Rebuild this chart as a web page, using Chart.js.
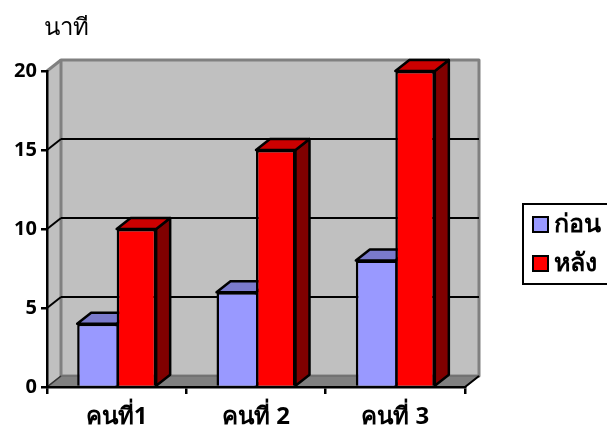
<!DOCTYPE html>
<html>
<head>
<meta charset="utf-8">
<title>chart</title>
<script src="https://cdn.jsdelivr.net/npm/chart.js@4"></script>
<style>
  html, body { margin: 0; padding: 0; background: #fff; overflow: hidden; }
  canvas { display: block; }
</style>
</head>
<body>
<canvas id="chart" width="607" height="428" style="width:607px;height:428px"></canvas>
<script>
const categories = ["คนที่1", "คนที่ 2", "คนที่ 3"];
const beforeValues = [4, 6, 8];
const afterValues = [10, 15, 20];
const seriesNames = ["ก่อน", "หลัง"];
const unitLabel = "นาที";

const FONT = '"Noto Sans", "Open Sans", sans-serif';
const DX = 14, DY = -11; // depth of the fake 3d

function poly(ctx, pts, fill, stroke, width) {
  ctx.beginPath();
  pts.forEach((p, i) => i ? ctx.lineTo(p[0], p[1]) : ctx.moveTo(p[0], p[1]));
  ctx.closePath();
  ctx.fillStyle = fill;
  ctx.fill();
  if (stroke) {
    ctx.strokeStyle = stroke;
    ctx.lineWidth = width;
    ctx.lineJoin = "round";
    ctx.stroke();
  }
}

function line(ctx, x1, y1, x2, y2, color, width) {
  ctx.beginPath();
  ctx.moveTo(x1, y1);
  ctx.lineTo(x2, y2);
  ctx.strokeStyle = color;
  ctx.lineWidth = width;
  ctx.stroke();
}

// walls, floor and grid behind the axes and bars
const walls = {
  id: "walls",
  beforeDraw(chart) {
    const { ctx, chartArea: a, scales } = chart;
    const gray = "#808080";
    ctx.save();
    poly(ctx, [[a.left, a.top], [a.left + DX, a.top + DY], [a.left + DX, a.bottom + DY], [a.left, a.bottom]], "#c0c0c0");
    poly(ctx, [[a.left + DX, a.top + DY], [a.right + DX, a.top + DY], [a.right + DX, a.bottom + DY], [a.left + DX, a.bottom + DY]], "#c0c0c0", gray, 3);
    line(ctx, a.left, a.top, a.left + DX, a.top + DY, gray, 3);
    poly(ctx, [[a.left, a.bottom], [a.left + DX, a.bottom + DY], [a.right + DX, a.bottom + DY], [a.right, a.bottom]], gray, "#6e6e6e", 1.5);
    line(ctx, a.right, a.bottom, a.right + DX, a.bottom + DY, "#000", 2);
    line(ctx, a.left, a.bottom, a.left + DX, a.bottom + DY, "#333", 1.5);
    scales.y.ticks.forEach(t => {
      if (t.value === 0 || t.value === scales.y.max) return;
      const y = Math.round(scales.y.getPixelForValue(t.value));
      line(ctx, a.left, y, a.left + DX, y + DY, "#000", 2);
      line(ctx, a.left + DX, y + DY, a.right + DX, y + DY, "#000", 2);
    });
    ctx.restore();
  },
  // top and side faces of all bars go under the front faces
  beforeDatasetsDraw(chart) {
    const { ctx } = chart;
    ctx.save();
    chart.data.datasets.forEach((ds, i) => {
      chart.getDatasetMeta(i).data.forEach(bar => {
        const w = bar.width / 2;
        const l = bar.x - w, r = bar.x + w, t = bar.y, b = bar.base;
        poly(ctx, [[r, t], [r + DX, t + DY], [r + DX, b + DY], [r, b]], ds.sideColor, "#000", 2.5);
        poly(ctx, [[l, t], [l + DX, t + DY], [r + DX, t + DY], [r, t]], ds.topColor, "#000", 2.5);
      });
    });
    ctx.restore();
  },
  afterDraw(chart) {
    const { ctx } = chart;
    ctx.save();
    ctx.textBaseline = "middle";
    ctx.textAlign = "left";
    ctx.fillStyle = "#000";
    ctx.font = "24px " + FONT;
    ctx.fillText(unitLabel, 44, 28);

    // legend runs off the right edge like in the picture
    ctx.strokeStyle = "#000";
    ctx.lineWidth = 2;
    ctx.strokeRect(523, 204, 100, 80);
    ctx.font = "bold 25px " + FONT;
    chart.data.datasets.forEach((ds, i) => {
      const y = 225 + i * 39;
      ctx.fillStyle = ds.backgroundColor;
      ctx.fillRect(533, y - 8, 15, 15);
      ctx.strokeRect(533, y - 8, 15, 15);
      ctx.fillStyle = "#000";
      ctx.fillText(ds.label, 554, y);
    });
    ctx.restore();
  }
};

new Chart(document.getElementById("chart"), {
  type: "bar",
  data: {
    labels: categories,
    datasets: [
      { label: seriesNames[0], data: beforeValues, backgroundColor: "#9999ff", topColor: "#7a7acc", sideColor: "#5c5c99", borderColor: "#000", borderWidth: { top: 2.5, left: 2.5, right: 0, bottom: 2.5 } },
      { label: seriesNames[1], data: afterValues, backgroundColor: "#ff0000", topColor: "#cc0000", sideColor: "#800000", borderColor: "#000", borderWidth: 2.5 }
    ]
  },
  options: {
    responsive: false,
    animation: false,
    devicePixelRatio: 1,
    layout: { padding: { top: 71, right: 142, left: 0, bottom: 0 } },
    plugins: { legend: { display: false }, tooltip: { enabled: false } },
    datasets: { bar: { categoryPercentage: 0.567, barPercentage: 1 } },
    scales: {
      x: {
        grid: { drawOnChartArea: false, color: "#000", tickLength: 7, lineWidth: 2.5, offset: true },
        border: { color: "#000", width: 2.5 },
        ticks: { color: "#000", font: { family: FONT, size: 24, weight: "bold" }, padding: 9, maxRotation: 0 },
        afterFit(s) { s.height = 41; }
      },
      y: {
        min: 0,
        max: 20,
        grid: { drawOnChartArea: false, color: "#000", tickLength: 6, lineWidth: 2.5 },
        border: { color: "#000", width: 2.5 },
        ticks: { stepSize: 5, color: "#000", font: { family: FONT, size: 20, weight: "bold" }, padding: 4 },
        afterFit(s) { s.width = 47; }
      }
    }
  },
  plugins: [walls]
});
</script>
</body>
</html>
